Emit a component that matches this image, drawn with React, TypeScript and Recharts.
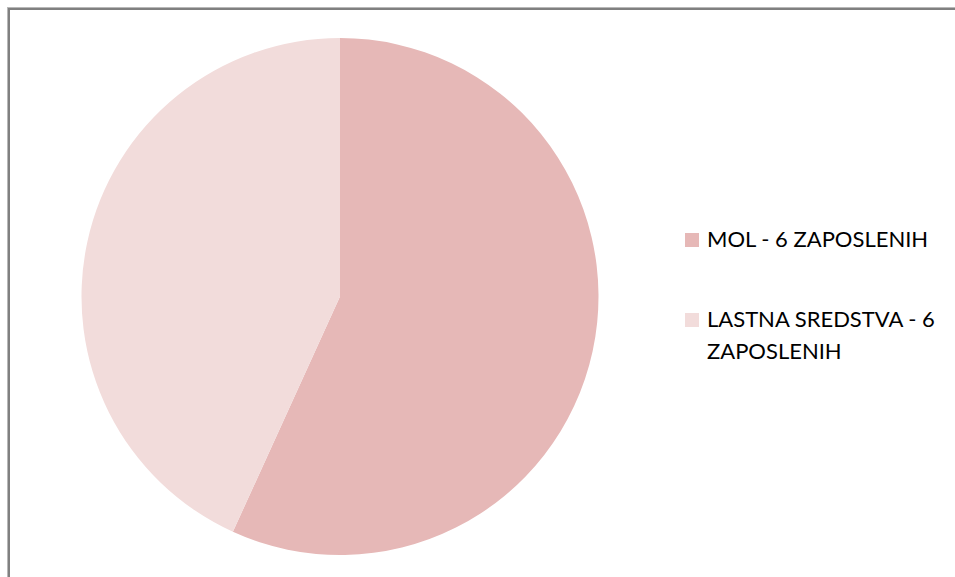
import { Cell, Legend, Pie, PieChart } from 'recharts'

const labels = ['MOL - 6 ZAPOSLENIH', 'LASTNA SREDSTVA - 6 ZAPOSLENIH']
const shares = [56.8, 43.2]
const colors = ['#E6B8B7', '#F2DCDB']

const data = labels.map((name, i) => ({ name, value: shares[i] }))

function LegendBox(props: { payload?: any[] }) {
  // keep the data order, the library sorts legend items by name
  const items = [...(props.payload ?? [])].sort(
    (a, b) => labels.indexOf(a.value) - labels.indexOf(b.value),
  )
  return (
    <div style={{ fontFamily: 'Lato, "Open Sans", sans-serif', fontSize: 22, lineHeight: '32px', color: '#000' }}>
      {items.map((p, i) => (
        <div key={i} style={{ display: 'flex', alignItems: 'flex-start', marginBottom: i === 0 ? 48 : 0 }}>
          <span
            style={{
              display: 'inline-block',
              width: 14,
              height: 14,
              marginTop: 10,
              marginRight: 8,
              background: p.color,
              flex: '0 0 14px',
            }}
          />
          <span style={{ width: 245 }}>{p.value}</span>
        </div>
      ))}
    </div>
  )
}

export default function App() {
  return (
    <div style={{ position: 'absolute', left: 0, top: 0, width: 955, height: 577, overflow: 'hidden', background: '#fff' }}>
      <div
        style={{
          position: 'absolute',
          left: 7,
          top: 7,
          width: 980,
          height: 600,
          borderTop: '1px solid #b8b8b8',
          borderLeft: '1px solid #b8b8b8',
        }}
      >
        <div style={{ width: '100%', height: '100%', borderTop: '2px solid #808080', borderLeft: '2px solid #808080' }} />
      </div>
      <div style={{ position: 'absolute', left: 0, top: 0 }}>
        <PieChart width={955} height={577} margin={{ top: 0, right: 0, bottom: 0, left: 0 }}>
          <Pie
            data={data}
            dataKey="value"
            nameKey="name"
            cx={340}
            cy={296.5}
            outerRadius={258.5}
            startAngle={90}
            endAngle={-270}
            stroke="none"
            isAnimationActive={false}
          >
            {data.map((d, i) => (
              <Cell key={d.name} fill={colors[i]} />
            ))}
          </Pie>
          <Legend
            layout="vertical"
            verticalAlign="top"
            align="right"
            wrapperStyle={{ left: 685, top: 223, width: 270 }}
            content={(p: any) => <LegendBox payload={p.payload} />}
          />
        </PieChart>
      </div>
    </div>
  )
}
